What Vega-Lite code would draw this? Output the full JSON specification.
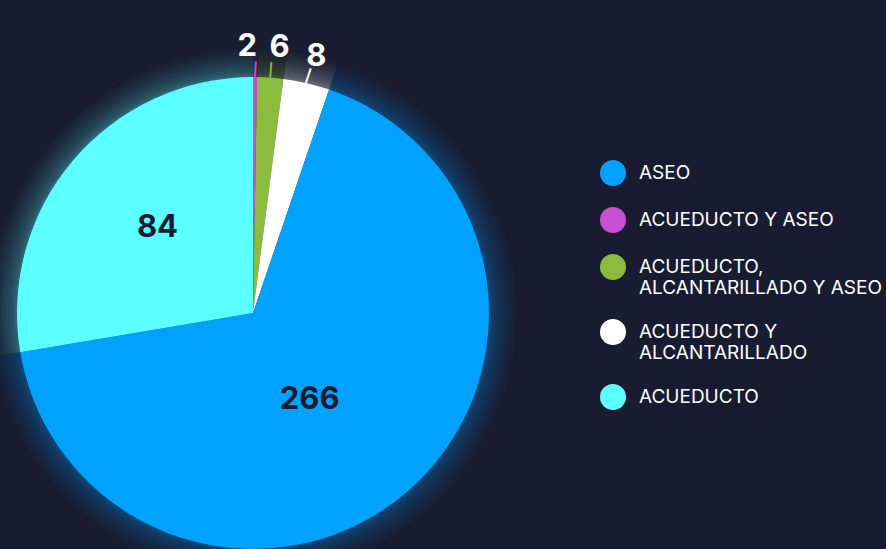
{
  "$schema": "https://vega.github.io/schema/vega-lite/v6.json",
  "width": 886,
  "height": 549,
  "autosize": "none",
  "padding": 0,
  "background": "#191c31",
  "config": {"view": {"stroke": null}, "font": "Inter"},
  "data": {
    "values": [
      {"servicio": "ACUEDUCTO Y ASEO", "n": 2, "arco": 1.0, "orden": 1},
      {"servicio": "ACUEDUCTO, ALCANTARILLADO Y ASEO", "n": 6, "arco": 6.4, "orden": 2},
      {"servicio": "ACUEDUCTO Y ALCANTARILLADO", "n": 8, "arco": 11.4, "orden": 3},
      {"servicio": "ASEO", "n": 266, "arco": 241.6, "orden": 4},
      {"servicio": "ACUEDUCTO", "n": 84, "arco": 99.6, "orden": 5}
    ]
  },
  "encoding": {
    "theta": {"field": "arco", "type": "quantitative", "stack": true},
    "order": {"field": "orden", "type": "quantitative"},
    "x": {"value": 253},
    "y": {"value": 313},
    "color": {
      "field": "servicio",
      "type": "nominal",
      "scale": {
        "domain": ["ASEO", "ACUEDUCTO Y ASEO", "ACUEDUCTO, ALCANTARILLADO Y ASEO", "ACUEDUCTO Y ALCANTARILLADO", "ACUEDUCTO"],
        "range": ["#00a2ff", "#c84fd0", "#8bbb3f", "#ffffff", "#5cffff"]
      },
      "legend": {
        "orient": "none",
        "legendX": 600,
        "legendY": 160,
        "title": null,
        "padding": 0,
        "symbolType": "circle",
        "symbolSize": 676,
        "symbolStrokeWidth": 0,
        "symbolOpacity": 1,
        "labelColor": "#ffffff",
        "labelFont": "Inter",
        "labelFontSize": 19,
        "labelLimit": 320,
        "labelOffset": 13,
        "rowPadding": 21,
        "labelExpr": "datum.label == 'ACUEDUCTO, ALCANTARILLADO Y ASEO' ? ['ACUEDUCTO,', 'ALCANTARILLADO Y ASEO'] : datum.label == 'ACUEDUCTO Y ALCANTARILLADO' ? ['ACUEDUCTO Y', 'ALCANTARILLADO'] : datum.label"
      }
    }
  },
  "layer": [
    {"mark": {"type": "arc", "radius": 264, "opacity": 0.025}},
    {"mark": {"type": "arc", "radius": 261, "opacity": 0.025}},
    {"mark": {"type": "arc", "radius": 258, "opacity": 0.03}},
    {"mark": {"type": "arc", "radius": 255, "opacity": 0.03}},
    {"mark": {"type": "arc", "radius": 252, "opacity": 0.035}},
    {"mark": {"type": "arc", "radius": 249, "opacity": 0.04}},
    {"mark": {"type": "arc", "radius": 246, "opacity": 0.045}},
    {"mark": {"type": "arc", "radius": 243, "opacity": 0.05}},
    {"mark": {"type": "arc", "radius": 240, "opacity": 0.06}},
    {"mark": {"type": "arc", "radius": 238, "opacity": 0.07}},
    {"mark": {"type": "arc", "radius": 236}},
    {
      "mark": {"type": "text", "radius": 243, "fontSize": 13, "fontWeight": "bold", "baseline": "middle"},
      "encoding": {
        "text": {"condition": {"test": "datum.n < 50", "value": "|"}, "value": ""},
        "angle": {"condition": {"test": "datum.n == 8", "value": 18}, "value": 4}
      }
    },
    {
      "mark": {"type": "text", "radius": 266, "dx": -8, "fontSize": 31, "fontWeight": "bold", "baseline": "middle"},
      "encoding": {
        "color": {"value": "#ffffff"},
        "text": {"condition": {"test": "datum.n == 2", "field": "n", "type": "quantitative"}, "value": ""}
      }
    },
    {
      "mark": {"type": "text", "radius": 266, "dx": 7, "fontSize": 31, "fontWeight": "bold", "baseline": "middle"},
      "encoding": {
        "color": {"value": "#ffffff"},
        "text": {"condition": {"test": "datum.n == 6", "field": "n", "type": "quantitative"}, "value": ""}
      }
    },
    {
      "mark": {"type": "text", "radius": 266, "dx": 3, "dy": 3, "fontSize": 31, "fontWeight": "bold", "baseline": "middle"},
      "encoding": {
        "color": {"value": "#ffffff"},
        "text": {"condition": {"test": "datum.n == 8", "field": "n", "type": "quantitative"}, "value": ""}
      }
    },
    {
      "mark": {"type": "text", "radius": 129, "dx": 3, "dy": -2, "fontSize": 31, "fontWeight": "bold", "baseline": "middle"},
      "encoding": {
        "color": {"value": "#191c31"},
        "text": {"condition": {"test": "datum.n == 84", "field": "n", "type": "quantitative"}, "value": ""}
      }
    },
    {
      "mark": {"type": "text", "radius": 106, "dx": -12, "dy": 6, "fontSize": 31, "fontWeight": "bold", "baseline": "middle"},
      "encoding": {
        "color": {"value": "#191c31"},
        "text": {"condition": {"test": "datum.n == 266", "field": "n", "type": "quantitative"}, "value": ""}
      }
    }
  ]
}
